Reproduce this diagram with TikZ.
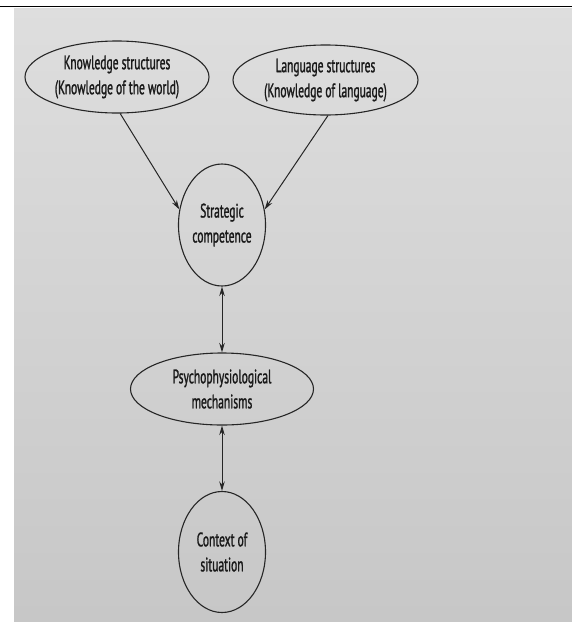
\documentclass[tikz,border=0pt]{standalone}
\usepackage{fontspec}
\setmainfont[FakeStretch=0.59, FakeBold=1.2]{PT Sans}
\usepackage{xcolor}
\usepackage{tikz}
\usetikzlibrary{shapes.geometric, arrows.meta, positioning}

\begin{document}
\begin{tikzpicture}[x=1pt, y=-1pt,
    oval/.style={draw=black!85, line width=1.1pt, ellipse, inner sep=-5pt, align=center,
                 text=black!90, font=\fontsize{19.5}{25}\selectfont},
    link/.style={draw=black!85, line width=1pt, >={Stealth[length=9.5pt, width=5.5pt]}}]
    % page photo
    \useasboundingbox (0,0) rectangle (572,622);
    \fill[white] (0,0) rectangle (572,622);
    \shade[top color=black!13, bottom color=black!22] (14,8) rectangle (572,622);
    \draw[black, line width=1.6pt] (0,6.5) -- (572,6.5);

    \node[oval, minimum width=184, minimum height=72] (know) at (117,77) {Knowledge structures\\(Knowledge of the world)};
    \node[oval, minimum width=185, minimum height=70] (lang) at (325.5,80) {Language structures\\(Knowledge of language)};
    \node[oval, minimum width=87, minimum height=122] (strat) at (222,225) {Strategic\\competence};
    \node[oval, minimum width=183, minimum height=72] (psy) at (222,389) {Psychophysiological\\mechanisms};
    \node[oval, minimum width=87, minimum height=121] (ctx) at (222,552) {Context of\\situation};

    \draw[link, ->] (know.-85) -- (strat.160);
    \draw[link, ->] (lang.-86) -- (strat.20);
    \draw[link, <->] (strat) -- (psy);
    \draw[link, <->] (psy) -- (ctx);
\end{tikzpicture}
\end{document}
